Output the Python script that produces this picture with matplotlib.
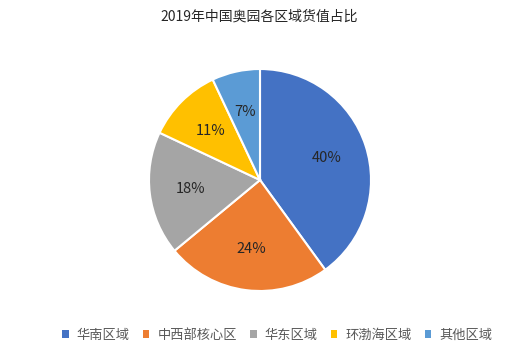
import matplotlib
matplotlib.use("Agg")
import matplotlib.pyplot as plt
from matplotlib.patches import Patch

plt.rcParams['font.family'] = ['Noto Sans CJK SC', 'DejaVu Sans']

title = "2019年中国奥园各区域货值占比"
categories = ["华南区域", "中西部核心区", "华东区域", "环渤海区域", "其他区域"]
values = [40, 24, 18, 11, 7]
colors = ["#4472C4", "#ED7D31", "#A5A5A5", "#FFC000", "#5B9BD5"]

fig = plt.figure(figsize=(5.18, 3.58), dpi=100)
fig.patch.set_facecolor("white")
cx, cy, r = 260 / 518, 1 - 180 / 358, 111
ax = fig.add_axes([cx - r / 518, cy - r / 358, 2 * r / 518, 2 * r / 358])
wedges, texts, autotexts = ax.pie(
    values, colors=colors, startangle=90, counterclock=False,
    autopct=lambda p: f"{p:.0f}%", pctdistance=0.63,
    wedgeprops=dict(edgecolor="white", linewidth=1.5),
    textprops=dict(fontsize=10.5, color="#262626"))
ax.set_xlim(-1, 1)
ax.set_ylim(-1, 1)
ax.set_aspect("equal")

fig.text(0.5, 1 - 17 / 358, title, ha="center", va="center", fontsize=10, color="#262626")

handles = [Patch(facecolor=c, edgecolor="none") for c in colors]
fig.legend(handles, categories, loc="center", bbox_to_anchor=(0.535, 1 - 335 / 358),
           ncol=5, frameon=False, fontsize=9.5, handlelength=0.5, handleheight=0.5,
           handletextpad=0.6, columnspacing=1.0, labelcolor="#595959")

fig.savefig("out.png", dpi=100, facecolor="white")
